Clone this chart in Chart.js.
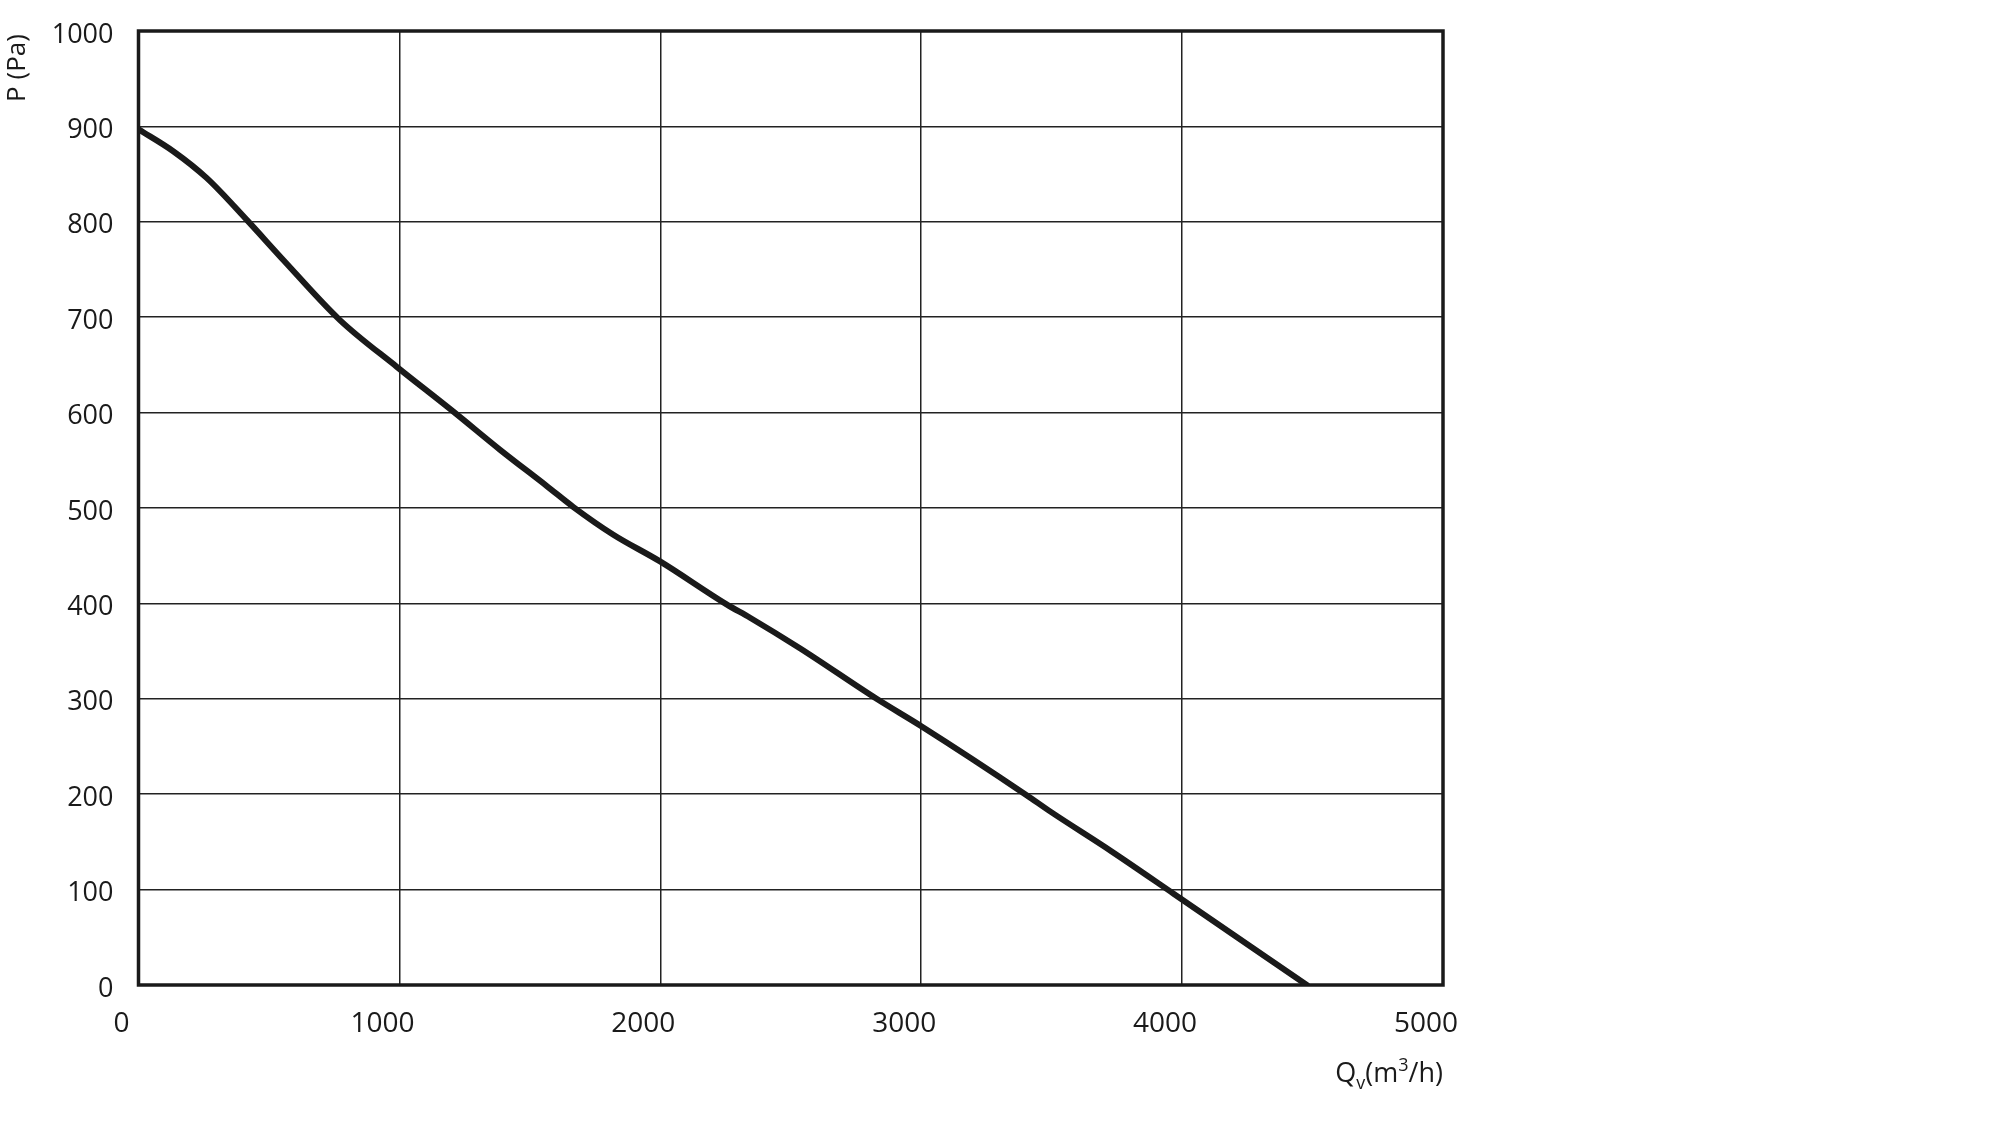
<!DOCTYPE html>
<html>
<head>
<meta charset="utf-8">
<script src="https://cdn.jsdelivr.net/npm/chart.js@4"></script>
<style>
html,body{margin:0;padding:0;background:#fff;}
#wrap{width:2000px;height:1143px;position:relative;}
</style>
</head>
<body>
<div id="wrap"><canvas id="c" width="2000" height="1143"></canvas></div>
<script>
// Data
const flowQ = [0, 133, 261, 415, 555, 772, 990, 1207, 1386, 1565, 1667, 1820, 1999, 2254, 2344, 2535, 2829, 3002, 3404, 3494, 3730, 3966, 4478];
const pressureP = [897, 874, 846, 802, 760, 697, 648, 601, 561, 523, 501, 472, 444, 399, 385, 353, 300, 271, 199, 182, 140, 96, 0];
const xTicks = [0, 1000, 2000, 3000, 4000, 5000];
const yTicks = [0, 100, 200, 300, 400, 500, 600, 700, 800, 900, 1000];
const yTitle = 'P (Pa)';
const xTitleParts = [['Q', 'n'], ['v', 'sub'], ['(m', 'n'], ['3', 'sup'], ['/h)', 'n']];

const FONT = '"Open Sans", "Noto Sans", sans-serif';
const INK = '#1a1a1a';

const points = flowQ.map((q, i) => ({x: q, y: pressureP[i]}));

const framePlugin = {
  id: 'frame',
  beforeDatasetsDraw(chart) {
    const {ctx, chartArea: a} = chart;
    ctx.save();
    ctx.strokeStyle = INK;
    ctx.lineWidth = 3.5;
    ctx.strokeRect(a.left, a.top, a.right - a.left, a.bottom - a.top);
    ctx.restore();
  },
  afterDraw(chart) {
    const {ctx, chartArea: a} = chart;
    ctx.save();
    ctx.fillStyle = INK;
    // y title, rotated, at top-left
    ctx.translate(18, a.top + 37);
    ctx.rotate(-Math.PI / 2);
    ctx.font = '26px ' + FONT;
    ctx.textAlign = 'center';
    ctx.textBaseline = 'middle';
    ctx.fillText(yTitle, 0, 0);
    ctx.restore();

    // x title with sub/superscripts, right-aligned to plot right edge
    ctx.save();
    ctx.fillStyle = INK;
    ctx.textBaseline = 'alphabetic';
    ctx.textAlign = 'left';
    const base = 27, small = 18;
    const fontFor = t => (t === 'n' ? base : small) + 'px ' + FONT;
    let total = 0;
    for (const [s, t] of xTitleParts) { ctx.font = fontFor(t); total += ctx.measureText(s).width; }
    let x = a.right - total;
    const baseline = a.bottom + 97;
    for (const [s, t] of xTitleParts) {
      ctx.font = fontFor(t);
      const dy = t === 'sub' ? 7 : (t === 'sup' ? -11 : 0);
      ctx.fillText(s, x, baseline + dy);
      x += ctx.measureText(s).width;
    }
    ctx.restore();
  }
};

new Chart(document.getElementById('c'), {
  type: 'line',
  data: {
    datasets: [{
      data: points,
      borderColor: INK,
      borderWidth: 6,
      borderCapStyle: 'round',
      borderJoinStyle: 'round',
      pointRadius: 0,
      cubicInterpolationMode: 'monotone',
      fill: false
    }]
  },
  options: {
    responsive: false,
    animation: false,
    devicePixelRatio: 1,
    layout: {padding: {left: 0, top: 31, right: 557, bottom: 0}},
    plugins: {legend: {display: false}, tooltip: {enabled: false}},
    scales: {
      x: {
        type: 'linear',
        min: 0, max: 5000,
        afterBuildTicks(scale) { scale.ticks = xTicks.map(v => ({value: v})); },
        afterFit(scale) { scale.height = 158; scale.paddingLeft = 0; scale.paddingRight = 0; },
        grid: {color: '#222', lineWidth: 1.5, drawTicks: false},
        border: {display: false},
        ticks: {
          color: INK, padding: 22, labelOffset: -17, maxRotation: 0,
          font: {family: FONT, size: 28},
          callback: v => String(v)
        }
      },
      y: {
        type: 'linear',
        min: 0, max: 1000,
        afterBuildTicks(scale) { scale.ticks = yTicks.map(v => ({value: v})); },
        afterFit(scale) { scale.width = 138.5; scale.paddingTop = 0; scale.paddingBottom = 0; },
        grid: {color: '#222', lineWidth: 1.5, drawTicks: false},
        border: {display: false},
        ticks: {
          color: INK, padding: 25, labelOffset: 4,
          font: {family: FONT, size: 27},
          callback: v => String(v)
        }
      }
    }
  },
  plugins: [framePlugin]
});
</script>
</body>
</html>
